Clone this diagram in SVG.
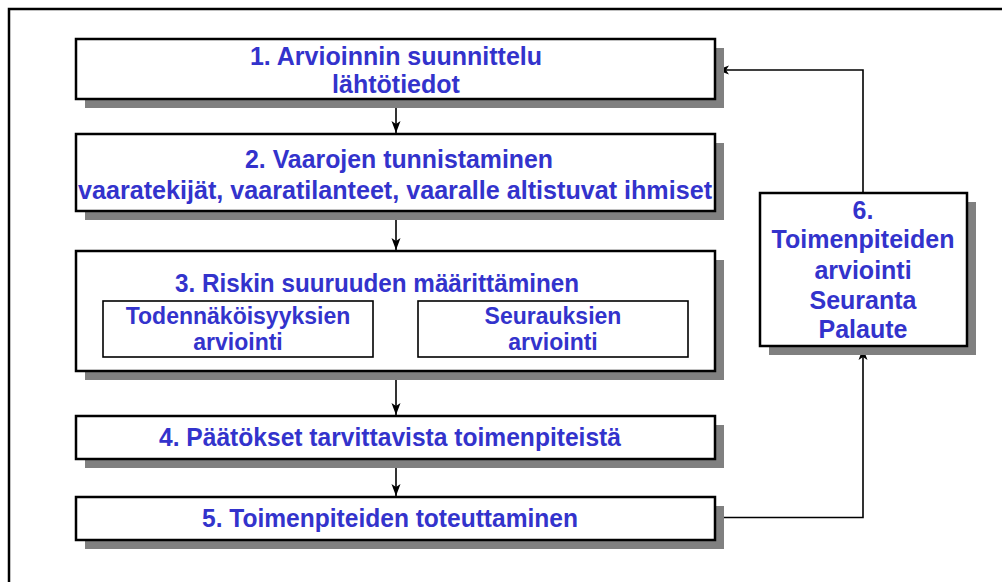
<svg xmlns="http://www.w3.org/2000/svg" width="1002" height="582" viewBox="0 0 1002 582">
<style>
.bg{fill:#ffffff}
.frame{fill:none;stroke:#000;stroke-width:2.5}
.shadow{fill:#808080}
.box{fill:#ffffff;stroke:#000;stroke-width:2.5}
.sub{fill:#ffffff;stroke:#000;stroke-width:1.6}
.t{font-family:"Liberation Sans",Arial,sans-serif;font-weight:bold;fill:#3333cc;text-anchor:middle}
.w{font-size:25px}
.s{font-size:23px}
.n{font-size:25px}
.conn{fill:none;stroke:#000;stroke-width:1.6}
</style>
<defs>
<marker id="ah" markerUnits="userSpaceOnUse" markerWidth="12" markerHeight="12" viewBox="0 0 12 10" refX="12" refY="5" orient="auto">
<path d="M0,0.5 L12,5 L0,9.5 L3,5 z" fill="#000"/>
</marker>
</defs>
<rect class="bg" x="0" y="0" width="1002" height="582"/>
<rect class="frame" x="9" y="9" width="1010" height="600"/>

<g id="connectors">
<line class="conn" x1="396" y1="100" x2="396" y2="133" marker-end="url(#ah)"/>
<line class="conn" x1="396" y1="212" x2="396" y2="250" marker-end="url(#ah)"/>
<line class="conn" x1="396" y1="372" x2="396" y2="415" marker-end="url(#ah)"/>
<line class="conn" x1="396" y1="460" x2="396" y2="496" marker-end="url(#ah)"/>
<polyline class="conn" points="716,517.5 863,517.5 863,348" marker-end="url(#ah)"/>
<polyline class="conn" points="863,192 863,70 717,70" marker-end="url(#ah)"/>
</g>

<g id="node1">
<rect class="shadow" x="85" y="48" width="639" height="60"/>
<rect class="box" x="76" y="39" width="639" height="60"/>
<text class="t w" x="396" y="65">1. Arvioinnin suunnittelu</text>
<text class="t w" x="396" y="93">lähtötiedot</text>
</g>

<g id="node2">
<rect class="shadow" x="85" y="143" width="639" height="77"/>
<rect class="box" x="76" y="134" width="639" height="77"/>
<text class="t n" x="399" y="168" textLength="308" lengthAdjust="spacingAndGlyphs">2. Vaarojen tunnistaminen</text>
<text class="t n" x="395" y="199" textLength="634" lengthAdjust="spacingAndGlyphs">vaaratekijät, vaaratilanteet, vaaralle altistuvat ihmiset</text>
</g>

<g id="node3">
<rect class="shadow" x="85" y="260" width="639" height="120"/>
<rect class="box" x="76" y="251" width="639" height="120"/>
<text class="t n" x="377" y="292" textLength="404" lengthAdjust="spacingAndGlyphs">3. Riskin suuruuden määrittäminen</text>
</g>

<g id="node3a">
<rect class="sub" x="103" y="301" width="270" height="56"/>
<text class="t s" x="238" y="324">Todennäköisyyksien</text>
<text class="t s" x="238" y="350">arviointi</text>
</g>

<g id="node3b">
<rect class="sub" x="418" y="301" width="270" height="56"/>
<text class="t s" x="553" y="324">Seurauksien</text>
<text class="t s" x="553" y="350">arviointi</text>
</g>

<g id="node4">
<rect class="shadow" x="85" y="425" width="639" height="43"/>
<rect class="box" x="76" y="416" width="639" height="43"/>
<text class="t n" x="390" y="446" textLength="462" lengthAdjust="spacingAndGlyphs">4. Päätökset tarvittavista toimenpiteistä</text>
</g>

<g id="node5">
<rect class="shadow" x="85" y="506" width="639" height="43"/>
<rect class="box" x="76" y="497" width="639" height="43"/>
<text class="t n" x="390" y="527" textLength="376" lengthAdjust="spacingAndGlyphs">5. Toimenpiteiden toteuttaminen</text>
</g>

<g id="node6">
<rect class="shadow" x="769" y="202" width="207" height="153"/>
<rect class="box" x="760" y="193" width="207" height="153"/>
<text class="t w" x="863" y="219">6.</text>
<text class="t w" x="863" y="248">Toimenpiteiden</text>
<text class="t w" x="863" y="279">arviointi</text>
<text class="t w" x="863" y="309">Seuranta</text>
<text class="t w" x="863" y="338">Palaute</text>
</g>
</svg>
